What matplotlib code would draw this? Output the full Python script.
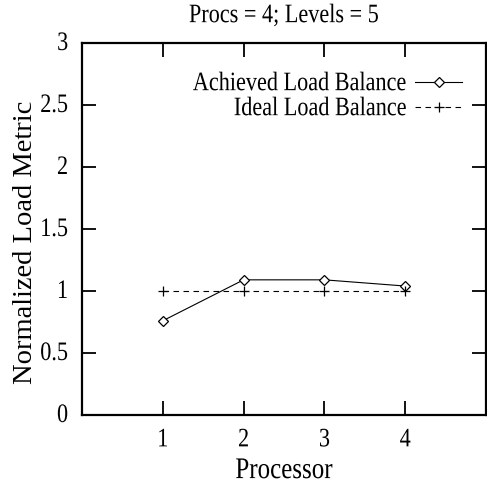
import matplotlib
matplotlib.use("Agg")
import matplotlib.pyplot as plt
import matplotlib.patheffects as pe
from matplotlib.transforms import Affine2D

processors = [1, 2, 3, 4]
achieved = [0.76, 1.09, 1.09, 1.04]
ideal = [1.0, 1.0, 1.0, 1.0]
yticks = [0, 0.5, 1, 1.5, 2, 2.5, 3]
ytick_labels = ['0', '0.5', '1', '1.5', '2', '2.5', '3']


class Tall(pe.AbstractPathEffect):
    # the reference text looks a bit stretched vertically
    def __init__(self, k=1.2):
        super().__init__()
        self.k = k

    def draw_path(self, renderer, gc, tpath, affine, rgbFace=None):
        m = affine.get_matrix().copy()
        m[1, 0] *= self.k
        m[1, 1] *= self.k
        renderer.draw_path(gc, tpath, Affine2D(m), rgbFace)


plt.rcParams['font.family'] = ['Liberation Serif', 'DejaVu Serif']

fig = plt.figure(figsize=(4.87, 4.83), dpi=100)
ax = fig.add_axes([82 / 487, 68 / 483, 404 / 487, 372 / 483])

ax.plot(processors, achieved, color='black', lw=0.8, marker='D', markersize=5.2,
        markerfacecolor='white', markeredgecolor='black', markeredgewidth=0.9,
        label='Achieved Load Balance')
ax.plot(processors, ideal, color='black', lw=0.8, ls=(0, (5, 4)), marker='+',
        markersize=7, markeredgewidth=0.9, label='Ideal Load Balance')

ax.set_xlim(0, 5)
ax.set_ylim(0, 3)
ax.set_xticks(processors)
ax.set_yticks(yticks)
ax.set_yticklabels(ytick_labels)
ax.tick_params(direction='in', length=10, width=1.3, top=True, right=True,
               labelsize=16)
ax.tick_params(axis='x', pad=12.5)
ax.tick_params(axis='y', pad=10)
for s in ax.spines.values():
    s.set_linewidth(1.6)

tall = [Tall(1.2)]
for t in ax.get_xticklabels() + ax.get_yticklabels():
    t.set_path_effects(tall)

xl = ax.set_xlabel('Processor', fontsize=18, labelpad=7)
xl.set_path_effects(tall)
ax.set_ylabel('Normalized Load Metric', fontsize=20.5)
ax.yaxis.set_label_coords(-0.11, 0.465)
tt = ax.set_title('Procs = 4; Levels = 5', fontsize=16, pad=15)
tt.set_path_effects(tall)

leg = ax.legend(loc='upper right', frameon=False, markerfirst=False, fontsize=16,
                handlelength=2.1, handletextpad=0.4, borderaxespad=0, borderpad=0,
                labelspacing=0.2, bbox_to_anchor=(380 / 404, 0.915))
for t in leg.get_texts():
    t.set_path_effects(tall)

fig.savefig('out.png', dpi=100)
